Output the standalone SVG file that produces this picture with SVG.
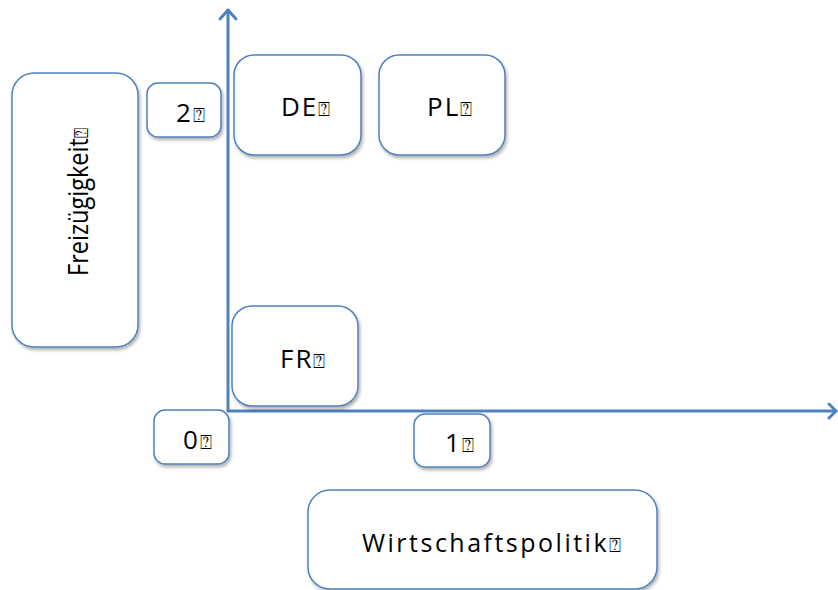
<svg xmlns="http://www.w3.org/2000/svg" width="838" height="590" viewBox="0 0 838 590">
  <defs>
    <filter id="shadow" x="-10%" y="-10%" width="130%" height="130%">
      <feDropShadow dx="1.5" dy="2.5" stdDeviation="1.5" flood-color="#000" flood-opacity="0.3"/>
    </filter>
  </defs>
  <style>
    .box { fill: #fff; stroke: #4F81BD; stroke-width: 1.5; filter: url(#shadow); }
    .axis { fill: none; stroke: #4F81BD; stroke-width: 3; stroke-linecap: round; stroke-linejoin: round; }
    .lbl { font-family: "Open Sans", "DejaVu Sans", sans-serif; fill: #000; font-size: 26px; letter-spacing: 2px; }
    .mk { font-family: "DejaVu Sans", sans-serif; font-size: 20px; letter-spacing: 0; }
  </style>
  <rect width="838" height="590" fill="#fff"/>

  <!-- axes -->
  <g id="connectors">
    <path class="axis" d="M228 410 L228 10"/>
    <path class="axis" d="M220 19 L228 10 L236 19"/>
    <path class="axis" d="M228 411 L836 411"/>
    <path class="axis" d="M829 404 L836 411 L829 418"/>
  </g>

  <g id="freizuegigkeit">
    <rect class="box" x="12" y="73" width="126" height="274" rx="22"/>
    <text transform="translate(88 276) rotate(-90)" font-family="'Open Sans', 'DejaVu Sans', sans-serif" font-size="28" fill="#000" textLength="148" lengthAdjust="spacingAndGlyphs">Freizügigkeit<tspan class="mk" font-size="24">⍰</tspan></text>
  </g>

  <g id="tick-2">
    <rect class="box" x="147" y="83" width="74" height="54" rx="11"/>
    <text class="lbl" x="176" y="122">2<tspan class="mk">⍰</tspan></text>
  </g>

  <g id="de">
    <rect class="box" x="234" y="55" width="127" height="100" rx="20"/>
    <text class="lbl" x="281" y="116">DE<tspan class="mk">⍰</tspan></text>
  </g>

  <g id="pl">
    <rect class="box" x="379" y="55" width="126" height="100" rx="20"/>
    <text class="lbl" x="427" y="116">PL<tspan class="mk">⍰</tspan></text>
  </g>

  <g id="fr">
    <rect class="box" x="232" y="306" width="126" height="100" rx="20"/>
    <text class="lbl" x="280" y="368">FR<tspan class="mk">⍰</tspan></text>
  </g>

  <g id="tick-0">
    <rect class="box" x="154" y="410" width="75" height="54" rx="11"/>
    <text class="lbl" x="183" y="449">0<tspan class="mk">⍰</tspan></text>
  </g>

  <g id="tick-1">
    <rect class="box" x="414" y="414" width="76" height="53" rx="11"/>
    <text class="lbl" x="445" y="452">1<tspan class="mk">⍰</tspan></text>
  </g>

  <g id="wirtschaftspolitik">
    <rect class="box" x="308" y="490" width="349" height="99" rx="22"/>
    <text x="362" y="552" font-family="'Open Sans', 'DejaVu Sans', sans-serif" font-size="25" fill="#000" textLength="259" lengthAdjust="spacing">Wirtschaftspolitik<tspan class="mk">⍰</tspan></text>
  </g>
</svg>
